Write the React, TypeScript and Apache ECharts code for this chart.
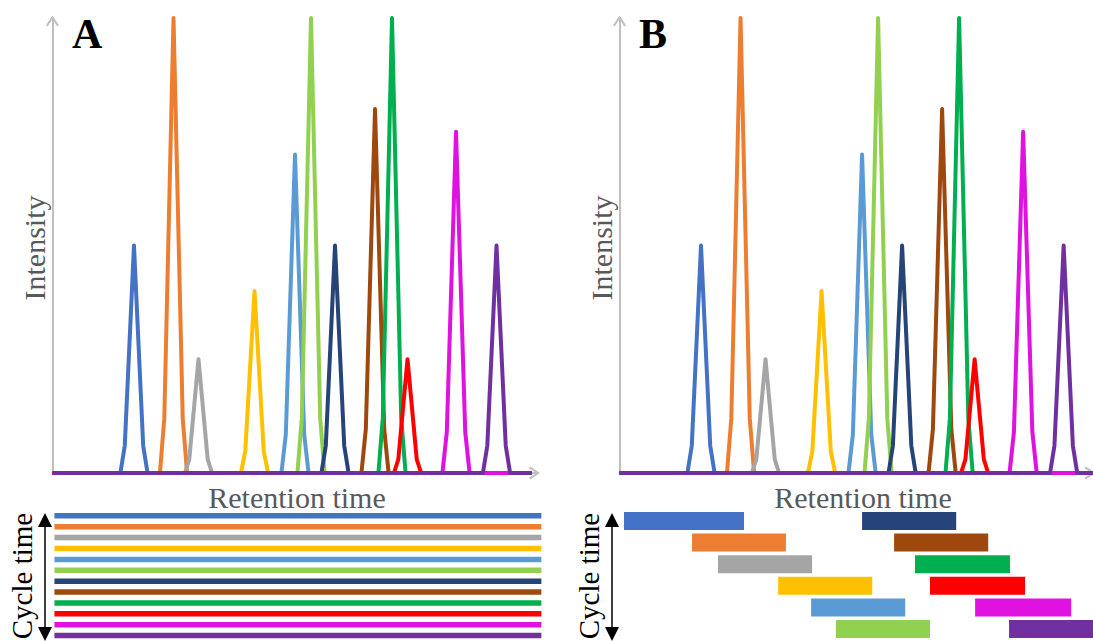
import React, { useEffect, useRef } from "react";
import * as echarts from "echarts";

// ---------- data ----------
const compounds = ["c1", "c2", "c3", "c4", "c5", "c6", "c7", "c8", "c9", "c10", "c11", "c12"];
const colors = [
  "#4472C4", "#ED7D31", "#A5A5A5", "#FFC000", "#5B9BD5", "#92D050",
  "#264478", "#9E480E", "#00B050", "#FF0000", "#DF12DF", "#7030A0",
];
// retention time of each peak (axis units 0..100)
const peakCenters = [16.8, 24.95, 30.1, 41.65, 50.0, 53.3, 58.25, 66.5, 70.0, 73.2, 83.2, 91.55];
// relative intensity of each peak
const peakHeights = [0.5, 1.0, 0.25, 0.4, 0.7, 1.0, 0.5, 0.8, 1.0, 0.25, 0.75, 0.5];
// sampled peak profile (offset in retention time, fraction of apex)
const profileOffsets = [-2.8, -1.9, 0, 1.9, 2.8];
const profileFractions = [0, 0.12, 1, 0.12, 0];
const baselineStart = 0;
const baselineEnd = 98.8;

// panel A: every compound monitored over whole run
const rowsA = [0, 1, 2, 3, 4, 5, 6, 7, 8, 9, 10, 11];
const fullRunStart = 0.4;
const fullRunEnd = 100.8;

// panel B: scheduled windows
const windowStart = [0.93, 14.95, 20.3, 32.7, 39.5, 44.6, 50.0, 56.6, 60.9, 64.0, 73.3, 80.3];
const windowEnd = [25.67, 34.3, 39.7, 52.1, 58.9, 64.0, 69.4, 76.0, 80.5, 83.6, 93.1, 99.7];
const windowRow = [0, 1, 2, 3, 4, 5, 0, 1, 2, 3, 4, 5];

const SERIF = "'Liberation Serif', 'Times New Roman', serif";
const AXIS_GRAY = "#BFBFBF";
const CHEVRON = "path://M6,0 L12,9 L10.5,10.2 L6,3.4 L1.5,10.2 L0,9 Z";

function peakData(i: number): number[][] {
  const pts: number[][] = [[baselineStart, 0]];
  for (let k = 0; k < profileOffsets.length; k++) {
    pts.push([peakCenters[i] + profileOffsets[k], peakHeights[i] * profileFractions[k]]);
  }
  pts.push([baselineEnd, 0]);
  return pts;
}

const arrowAxisLine = {
  show: true,
  symbol: ["none", CHEVRON],
  symbolSize: [13, 11],
  symbolOffset: [0, -3],
  lineStyle: { color: AXIS_GRAY, width: 2 },
};

export default function App() {
  const ref = useRef<HTMLDivElement>(null);
  useEffect(() => {
    if (!ref.current) return;
    const chart = echarts.init(ref.current, null, { renderer: "svg" });

    const rectRender = (h: number) => (params: any, api: any) => {
      const s = api.coord([api.value(0), api.value(2)]);
      const e = api.coord([api.value(1), api.value(2)]);
      return {
        type: "rect",
        shape: { x: s[0], y: s[1] - h / 2, width: e[0] - s[0], height: h },
        style: { fill: api.visual("color") },
      };
    };

    const lineSeries: any[] = [];
    [0, 2].forEach((axisIdx) => {
      compounds.forEach((name, i) => {
        lineSeries.push({
          type: "line",
          name,
          xAxisIndex: axisIdx,
          yAxisIndex: axisIdx,
          data: peakData(i),
          showSymbol: false,
          symbol: "none",
          lineStyle: { color: colors[i], width: 4, join: "round" },
          itemStyle: { color: colors[i] },
          silent: true,
        });
      });
    });

    const axisCommon = { axisTick: { show: false }, axisLabel: { show: false }, splitLine: { show: false } };

    const option: any = {
      animation: false,
      backgroundColor: "#ffffff",
      grid: [
        { left: 52.5, top: 18, width: 485, height: 455 },
        { left: 52.5, top: 510.4, width: 485, height: 134.4 },
        { left: 619.5, top: 18, width: 473.5, height: 455 },
        { left: 619.5, top: 510.2, width: 473.5, height: 129.6 },
      ],
      xAxis: [
        { gridIndex: 0, type: "value", min: 0, max: 100, axisLine: arrowAxisLine, ...axisCommon },
        { gridIndex: 1, type: "value", min: 0, max: 100, show: false },
        { gridIndex: 2, type: "value", min: 0, max: 97.6, axisLine: arrowAxisLine, ...axisCommon },
        { gridIndex: 3, type: "value", min: 0, max: 97.6, show: false },
      ],
      yAxis: [
        { gridIndex: 0, type: "value", min: 0, max: 1, axisLine: arrowAxisLine, ...axisCommon },
        { gridIndex: 1, type: "value", min: -0.5, max: 11.5, inverse: true, show: false },
        { gridIndex: 2, type: "value", min: 0, max: 1, axisLine: arrowAxisLine, ...axisCommon },
        { gridIndex: 3, type: "value", min: -0.5, max: 5.5, inverse: true, show: false },
      ],
      series: [
        ...lineSeries,
        {
          type: "custom",
          xAxisIndex: 1,
          yAxisIndex: 1,
          clip: false,
          renderItem: rectRender(5.5),
          encode: { x: [0, 1], y: 2 },
          data: rowsA.map((r) => ({ value: [fullRunStart, fullRunEnd, r], itemStyle: { color: colors[r] } })),
        },
        {
          type: "custom",
          xAxisIndex: 3,
          yAxisIndex: 3,
          clip: false,
          renderItem: rectRender(18),
          encode: { x: [0, 1], y: 2 },
          data: windowStart.map((s, i) => ({ value: [s, windowEnd[i], windowRow[i]], itemStyle: { color: colors[i] } })),
        },
      ],
      graphic: [
        { type: "text", x: 72, y: 13, style: { text: "A", font: `bold 42px ${SERIF}`, fill: "#000" } },
        { type: "text", x: 639, y: 13, style: { text: "B", font: `bold 42px ${SERIF}`, fill: "#000" } },
        { type: "text", x: 34, y: 248, rotation: Math.PI / 2, style: { text: "Intensity", font: `30px ${SERIF}`, fill: "#595959", align: "center", verticalAlign: "middle" } },
        { type: "text", x: 601, y: 248, rotation: Math.PI / 2, style: { text: "Intensity", font: `30px ${SERIF}`, fill: "#595959", align: "center", verticalAlign: "middle" } },
        { type: "text", x: 297, y: 497, style: { text: "Retention time", font: `30px ${SERIF}`, fill: "#595959", align: "center", verticalAlign: "middle" } },
        { type: "text", x: 863, y: 497, style: { text: "Retention time", font: `30px ${SERIF}`, fill: "#595959", align: "center", verticalAlign: "middle" } },
        { type: "text", x: 22, y: 576, rotation: Math.PI / 2, style: { text: "Cycle time", font: `29px ${SERIF}`, fill: "#000", align: "center", verticalAlign: "middle" } },
        { type: "text", x: 589, y: 576, rotation: Math.PI / 2, style: { text: "Cycle time", font: `29px ${SERIF}`, fill: "#000", align: "center", verticalAlign: "middle" } },
        { type: "line", shape: { x1: 45, y1: 522, x2: 45, y2: 632 }, style: { stroke: "#000", lineWidth: 1.5 } },
        { type: "polygon", shape: { points: [[38, 527], [45, 513], [52, 527]] }, style: { fill: "#000" } },
        { type: "polygon", shape: { points: [[38, 627], [45, 641], [52, 627]] }, style: { fill: "#000" } },
        { type: "line", shape: { x1: 612, y1: 522, x2: 612, y2: 632 }, style: { stroke: "#000", lineWidth: 1.5 } },
        { type: "polygon", shape: { points: [[605, 527], [612, 513], [619, 527]] }, style: { fill: "#000" } },
        { type: "polygon", shape: { points: [[605, 627], [612, 641], [619, 627]] }, style: { fill: "#000" } },
      ],
    };
    chart.setOption(option);
    return () => chart.dispose();
  }, []);
  return (
    <div
      ref={ref}
      style={{ position: "fixed", left: 0, top: 0, width: 1093, height: 641, background: "#fff" }}
    />
  );
}
